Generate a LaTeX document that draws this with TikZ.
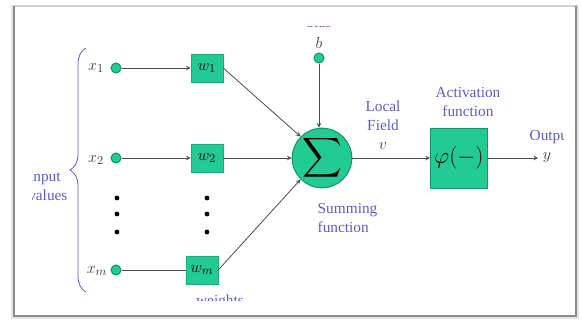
\documentclass[tikz,border=0pt]{standalone}
\usepackage{fontspec}
\setmainfont{Liberation Serif}
\usepackage{amsmath}
\usetikzlibrary{arrows, positioning, calc, decorations.pathreplacing}
\definecolor{neurongreen}{RGB}{34,202,148}
\definecolor{edgegreen}{RGB}{22,150,108}
\definecolor{notesblue}{RGB}{92,92,208}

\begin{document}
\begin{tikzpicture}[x=0.75pt, y=-0.75pt,
    inputdot/.style={circle, draw=edgegreen, fill=neurongreen, thick, minimum size=7.5pt, inner sep=0pt},
    weightbox/.style={rectangle, fill=neurongreen, draw=neurongreen!85!black, minimum width=24pt, minimum height=21pt, inner sep=0pt, font=\fontsize{13}{13}\selectfont},
    sumnode/.style={circle, draw=edgegreen, fill=neurongreen, thick, minimum size=43pt, inner sep=0pt},
    actnode/.style={rectangle, draw=edgegreen, fill=neurongreen, minimum width=43pt, minimum height=45pt, inner sep=0pt},
    note/.style={text=notesblue, align=center, font=\fontsize{11.5}{14.5}\selectfont},
    varlabel/.style={text=black!75, font=\fontsize{13}{13}\selectfont},
    dotnode/.style={circle, fill=black, minimum size=3.6pt, inner sep=0pt},
    arrow/.style={->, >=stealth, black!70, line width=0.6pt}
]
    \useasboundingbox (0,0) rectangle (581,322);

    % Frame with soft shadow
    \draw[black!10, line width=3pt] (13,7) rectangle (577,317);
    \draw[fill=white, draw=black!18, line width=0.8pt] (14,6) rectangle (576,316);
    \draw[black!45, line width=1pt] (14,6) -- (14,316) -- (576,316) -- (576,6);

    \begin{scope}
    \clip (32,26) rectangle (563,300);

    % Inputs
    \node[inputdot] (x1) at (116,68) {};
    \node[inputdot] (x2) at (116,158) {};
    \node[inputdot] (xm) at (116,270) {};
    \node[varlabel] (x1lab) at (96,68) {$x_1$};
    \node[varlabel] (x2lab) at (96,160) {$x_2$};
    \node[varlabel] (xmlab) at (97,271) {$x_m$};

    % Weights
    \node[weightbox] (w1) at (207,68) {$w_1$};
    \node[weightbox] (w2) at (207,158) {$w_2$};
    \node[weightbox] (wm) at (202,270) {$w_m$};

    % Vertical dots
    \foreach \col in {117,207} {
        \foreach \row in {198,214,232} {
            \node[dotnode] (d\col-\row) at (\col,\row) {};
        }
    }

    % Bias
    \node[note, anchor=base] (bias) at (319,27) {bias};
    \node[varlabel] (blab) at (319,43) {$b$};
    \node[inputdot] (bdot) at (319,58) {};

    % Summing junction and activation
    \node[sumnode] (sum) at (322,158) {\fontsize{21}{21}\selectfont$\displaystyle\sum$};
    \node[actnode] (act) at (459,158) {\fontsize{19}{19}\selectfont$\varphi(-)$};
    \node[varlabel] (ylab) at (547,158) {$y$};

    % Texts
    \node[note, align=left, anchor=west, inner sep=0pt] (inlab) at (28,186) {Input\\values};
    \node[note] (wlab) at (220,302) {weights};
    \node[note] (field) at (383,116) {Local\\Field};
    \node[varlabel] (vlab) at (383,146) {$v$};
    \node[note] (actlab) at (468,102) {Activation\\function};
    \node[note, align=left, anchor=west] (sumlab) at (313,218) {Summing\\function};
    \node[note, anchor=west] (outlab) at (525,137) {Output};

    % Brace
    \draw[notesblue, semithick, decorate, decoration={brace, amplitude=12pt}] (86,292) -- (86,48);

    % Connections
    \draw[arrow] (x1) -- (w1);
    \draw[arrow] (x2) -- (w2);
    \draw[black!70, line width=0.6pt] (xm) -- (wm);
    \draw[arrow] (w1.east) -- (sum.north west);
    \draw[arrow] (w2) -- (sum);
    \draw[arrow] (wm.east) -- (sum.south west);
    \draw[arrow] (bdot) -- (bdot |- sum.north);
    \draw[arrow] (sum) -- (act);
    \draw[arrow] (act) -- (ylab);
    \end{scope}
\end{tikzpicture}
\end{document}
